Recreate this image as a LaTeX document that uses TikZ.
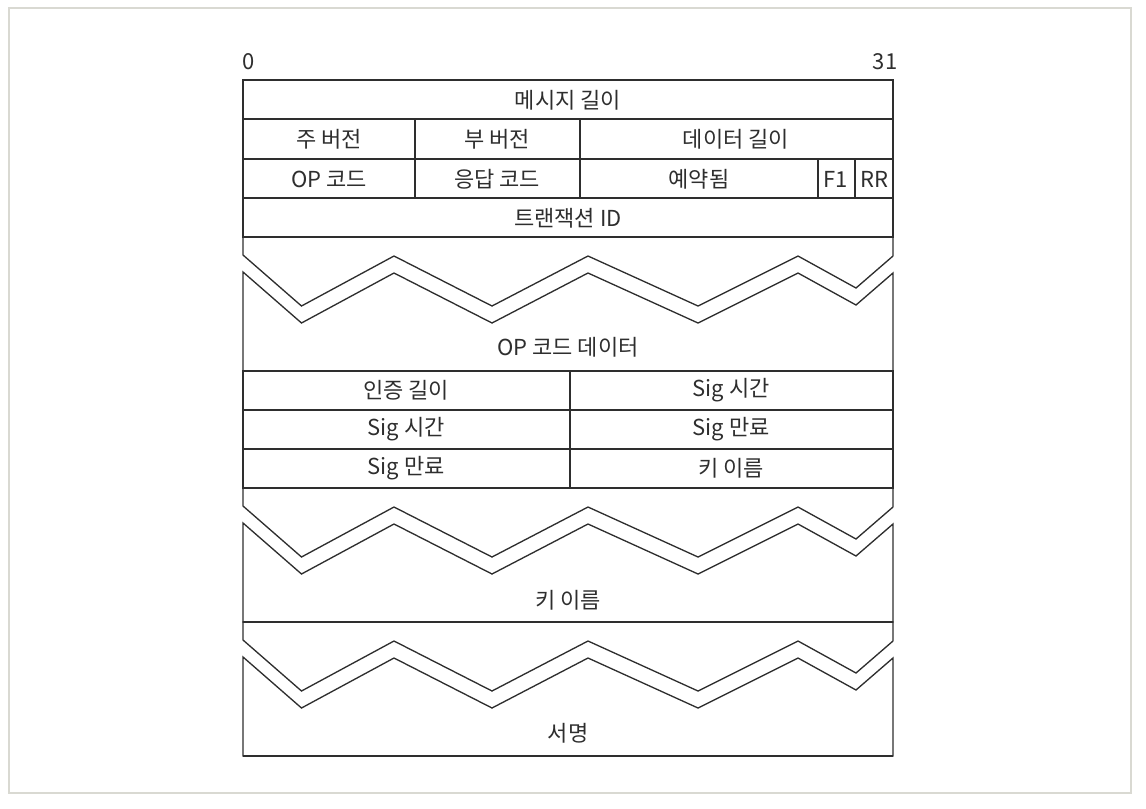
\documentclass[tikz,border=0pt]{standalone}
\usepackage{fontspec}
\setmainfont{Noto Sans CJK KR}
\usepackage{tikz}
\usepackage{xcolor}
\definecolor{framegrey}{HTML}{D9D9D2}
\definecolor{inkgrey}{HTML}{2E2E2E}

\begin{document}
\begin{tikzpicture}[x=0.75pt,y=-0.75pt,
  fld/.style={inner sep=0pt,text=inkgrey,font=\fontsize{16.5pt}{18pt}\selectfont},
  rule/.style={draw=inkgrey,line width=1.3pt},
  zz/.style={draw=inkgrey,line width=1pt,line join=miter}]
  % page and frame
  \useasboundingbox (0,0) rectangle (1146,808);
  \draw[framegrey,line width=0.8pt] (9,8) rectangle (1131,793);

  % bit numbers
  \node[fld] (bit0) at (249,62) {0};
  \node[fld] (bit31) at (885,62) {31};

  % fixed header
  \draw[rule] (243,80) rectangle (893,237);
  \foreach \y in {119,159,198}
    \draw[rule] (243,\y) -- (893,\y);
  \draw[rule] (415,119) -- (415,198);
  \draw[rule] (580,119) -- (580,198);
  \draw[rule] (818,159) -- (818,198);
  \draw[rule] (855,159) -- (855,198);

  \node[fld] (msglen) at (568,100) {메시지 길이};
  \node[fld] (major) at (329,139) {주 버전};
  \node[fld] (minor) at (497,139) {부 버전};
  \node[fld] (datalen) at (736,139) {데이터 길이};
  \node[fld] (opcode) at (329,179) {OP 코드};
  \node[fld] (rcode) at (497,179) {응답 코드};
  \node[fld] (rsvd) at (699,179) {예약됨};
  \node[fld] (fone) at (836,179) {F1};
  \node[fld] (rr) at (874,179) {RR};
  \node[fld] (txid) at (568,218) {트랜잭션 ID};

  % variable length parts
  \foreach \t in {237,488,622} {
    \draw[zz,shift={(0,\t)}] (893,19) -- (893,0) -- (243,0) -- (243,18)
      -- (301.5,69) -- (394,19) -- (492,69) -- (588,19) -- (698,69)
      -- (798,19) -- (856,51) -- (893,19);
    \draw[zz,shift={(0,\t)}] (243,35)
      -- (301.5,86) -- (394,36) -- (492,86) -- (588,36) -- (698,86)
      -- (798,36) -- (856,68) -- (893,36) -- (893,134) -- (243,134) -- cycle;
  }
  \draw[rule] (243,237) -- (893,237);
  \draw[rule] (243,488) -- (893,488);
  \draw[rule] (243,622) -- (893,622);
  \draw[rule] (243,756) -- (893,756);

  \node[fld] (opdata) at (568,347) {OP 코드 데이터};

  % signature fields
  \draw[rule] (243,371) rectangle (893,488);
  \foreach \y in {410,449}
    \draw[rule] (243,\y) -- (893,\y);
  \draw[inkgrey,line width=0.8pt] (570,371) -- (570,488);

  \node[fld] (authlen) at (406,390) {인증 길이};
  \node[fld] (sigtimeR) at (731,390) {Sig 시간};
  \node[fld] (sigtimeL) at (406,429) {Sig 시간};
  \node[fld] (sigexpR) at (731,429) {Sig 만료};
  \node[fld] (sigexpL) at (406,468) {Sig 만료};
  \node[fld] (keynameR) at (731,468) {키 이름};

  \node[fld] (keyname) at (568,600) {키 이름};
  \node[fld] (signature) at (568,733) {서명};
\end{tikzpicture}
\end{document}
